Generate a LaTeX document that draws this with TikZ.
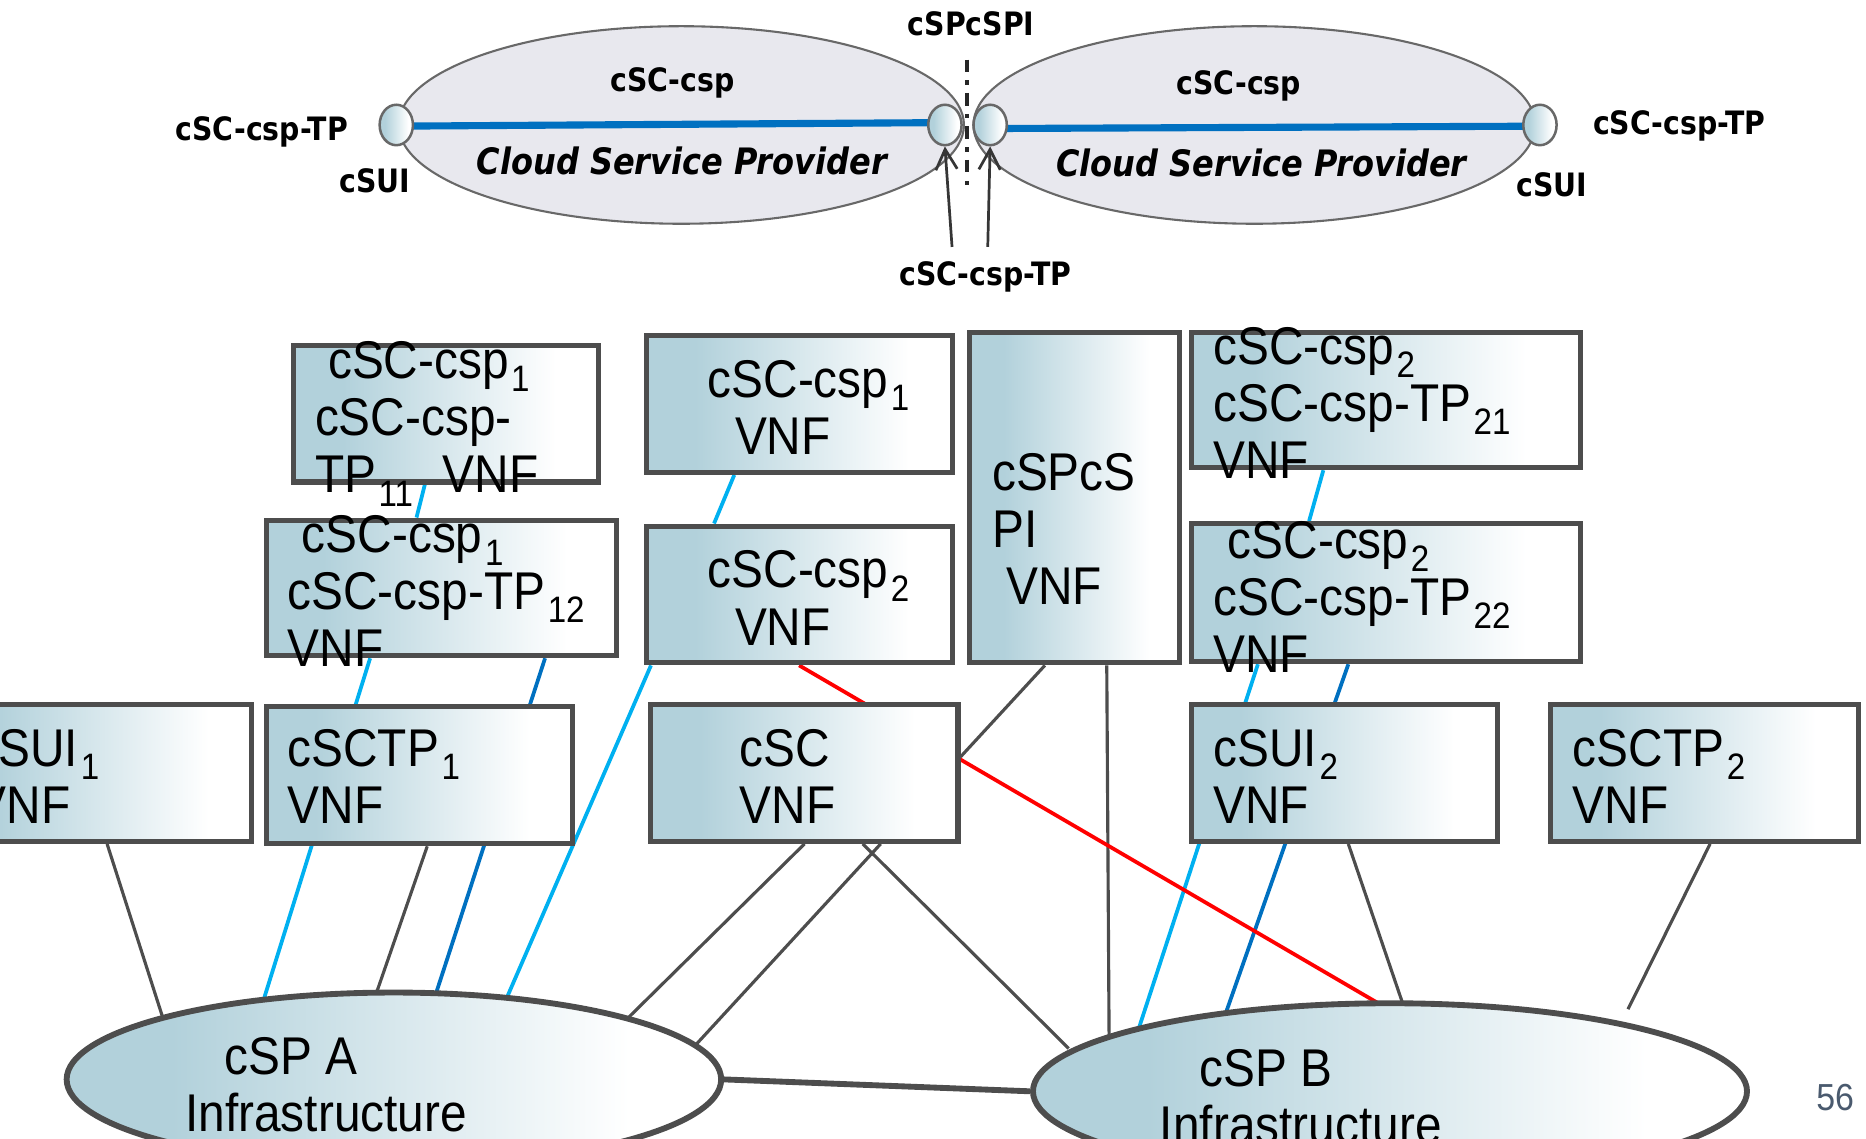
\documentclass[tikz,border=0pt]{standalone}
\usepackage{fontspec}
\setmainfont{Liberation Sans}[FakeStretch=0.9]
\newfontfamily\hdrfont{DejaVu Sans}[FakeStretch=0.88]
\usetikzlibrary{arrows.meta,positioning,shapes.geometric,backgrounds}

\definecolor{vnfblue}{RGB}{178,209,219}
\definecolor{cspgray}{RGB}{232,232,238}
\definecolor{edge}{RGB}{77,77,77}
\definecolor{lblue}{RGB}{0,176,240}
\definecolor{dblue}{RGB}{0,112,192}
\definecolor{pgnum}{RGB}{74,90,110}
\pgfdeclarehorizontalshading{vnfshade}{100bp}{color(0bp)=(vnfblue); color(33bp)=(vnfblue); color(68bp)=(white); color(100bp)=(white)}
\newcommand{\vnfsize}{\fontsize{12.7}{13.7}\selectfont\lineskiplimit=-20pt\relax}
\newcommand{\lo}[1]{\kern0.6pt\raisebox{-3.2pt}{\fontsize{8.8}{9}\selectfont #1}}

\begin{document}
\begin{tikzpicture}[x=1cm, y=-1cm,
  vnf/.style={draw=edge, line width=1.2pt, shade, shading=vnfshade, minimum width=2.57cm, minimum height=1.15cm, inner sep=0pt},
  infra/.style={ellipse, draw=edge, line width=1.4pt, shade, shading=vnfshade, inner sep=0pt},
  cloud/.style={ellipse, draw=edge!85, line width=0.5pt, fill=cspgray, minimum height=1.66cm, inner sep=0pt},
  port/.style={ellipse, draw=edge!85, line width=0.6pt, shade, shading=vnfshade, minimum width=0.28cm, minimum height=0.34cm, inner sep=0pt},
  txt/.style={font=\vnfsize, align=left, anchor=north west, inner sep=0pt},
  hdr/.style={inner sep=0pt, font=\hdrfont\fontsize{7.7}{9}\selectfont\bfseries},
  lb/.style={lblue, line width=0.9pt},
  db/.style={dblue, line width=0.9pt},
  gl/.style={edge, line width=0.75pt}
]
\useasboundingbox (0,0) rectangle (15.68,9.57);
\clip (0,0) rectangle (15.68,9.57);

% two cloud service providers at the top
\node[cloud, minimum width=4.75cm] (cspL) at (5.725,1.05) {};
\node[cloud, minimum width=4.72cm] (cspR) at (10.54,1.05) {};
\draw[dblue, line width=1.7pt] (3.33,1.06) -- (7.94,1.03);
\draw[dblue, line width=1.7pt] (8.32,1.08) -- (12.94,1.06);
\node[port] (pL1) at (3.33,1.05) {};
\node[port] (pL2) at (7.94,1.05) {};
\node[port] (pR1) at (8.32,1.05) {};
\node[port] (pR2) at (12.94,1.05) {};
\coordinate (cut1) at (8.125,0.50);
\coordinate (cut2) at (8.125,1.61);
\draw[black!85, line width=1pt, dash pattern=on 3pt off 2pt on 1pt off 2pt] (cut1) -- (cut2);
\coordinate (aL) at (8.00,2.075);
\coordinate (aR) at (8.30,2.075);
\draw[edge!70!black, line width=0.65pt, -{Straight Barb[length=1.7mm, width=1.8mm]}] (aL) -- (pL2.south);
\draw[edge!70!black, line width=0.65pt, -{Straight Barb[length=1.7mm, width=1.8mm]}] (aR) -- (pR1.south);

\node[hdr] (spi) at (8.16,0.20) {cSPcSPI};
\node[hdr] (nameL) at (5.65,0.70) {cSC-csp};
\node[hdr] (nameR) at (10.41,0.72) {cSC-csp};
\node[hdr, font=\hdrfont\fontsize{8.7}{10}\selectfont\bfseries\itshape] (roleL) at (5.73,1.35) {Cloud Service Provider};
\node[hdr, font=\hdrfont\fontsize{8.7}{10}\selectfont\bfseries\itshape] (roleR) at (10.60,1.37) {Cloud Service Provider};
\node[hdr] (tpL) at (2.20,1.11) {cSC-csp-TP};
\node[hdr] (tpR) at (14.11,1.06) {cSC-csp-TP};
\node[hdr] (suiL) at (3.15,1.52) {cSUI};
\node[hdr] (suiR) at (13.04,1.55) {cSUI};
\node[hdr] (tpM) at (8.28,2.33) {cSC-csp-TP};

% VNF boxes
\node[vnf, minimum width=2.56cm] (b11) at (3.75,3.475) {};
\node[vnf] (b1) at (6.715,3.395) {};
\node[vnf, minimum width=1.76cm, minimum height=2.78cm] (bpi) at (9.03,4.18) {};
\node[vnf, minimum width=3.27cm, minimum height=1.14cm] (b21) at (11.645,3.36) {};
\node[vnf, minimum width=2.94cm, minimum height=1.14cm] (b12) at (3.71,4.94) {};
\node[vnf] (b2) at (6.715,4.995) {};
\node[vnf, minimum width=3.27cm, minimum height=1.16cm] (b22) at (11.645,4.98) {};
\node[vnf, minimum width=2.56cm] (bsui1) at (0.83,6.495) {};
\node[vnf] (bctp1) at (3.525,6.515) {};
\node[vnf, minimum width=2.58cm] (bcsc) at (6.76,6.495) {};
\node[vnf] (bsui2) at (11.295,6.495) {};
\node[vnf, minimum width=2.59cm] (bctp2) at (14.325,6.495) {};

\node[txt] (b11t) at (2.64,2.86) {\hspace*{0.11cm}cSC-csp\lo{1}\\cSC-csp-\\TP\lo{11}\hspace*{0.25cm}VNF};
\node[txt] (b1t) at (5.94,3.02) {cSC-csp\lo{1}\\\hspace*{0.23cm}VNF};
\node[txt] (bpit) at (8.33,3.80) {cSPcS\\PI\\\hspace*{0.12cm}VNF};
\node[txt] (b21t) at (10.19,2.74) {cSC-csp\lo{2}\\cSC-csp-TP\lo{21}\\VNF};
\node[txt] (b12t) at (2.41,4.32) {\hspace*{0.12cm}cSC-csp\lo{1}\\cSC-csp-TP\lo{12}\\VNF};
\node[txt] (b2t) at (5.94,4.62) {cSC-csp\lo{2}\\\hspace*{0.23cm}VNF};
\node[txt] (b22t) at (10.19,4.37) {\hspace*{0.12cm}cSC-csp\lo{2}\\cSC-csp-TP\lo{22}\\VNF};
\node[txt] (bsui1t) at (-0.22,6.12) {cSUI\lo{1}\\VNF};
\node[txt] (bctp1t) at (2.41,6.12) {cSCTP\lo{1}\\VNF};
\node[txt] (bcsct) at (6.21,6.12) {cSC\\VNF};
\node[txt] (bsui2t) at (10.19,6.12) {cSUI\lo{2}\\VNF};
\node[txt] (bctp2t) at (13.21,6.12) {cSCTP\lo{2}\\VNF};

% infrastructures
\node[infra, minimum width=5.50cm, minimum height=1.46cm] (cspA) at (3.31,9.07) {};
\node[infra, minimum width=6.00cm, minimum height=1.48cm] (cspB) at (11.68,9.17) {};
\node[txt] (cspAt) at (1.55,8.71) {\hspace*{0.33cm}cSP A\\Infrastructure};
\node[txt] (cspBt) at (9.74,8.81) {\hspace*{0.33cm}cSP B\\Infrastructure};
\draw[edge, line width=1.4pt] (cspA.east) -- (cspB.west);
\node[font=\fontsize{9}{10}\selectfont, text=pgnum, inner sep=0pt] (page) at (15.42,9.22) {56};

\begin{scope}[on background layer]
% chains between VNFs
\draw[lb] ([shift={(-0.18,0)}]b11.south) -- ([shift={(-0.21,0)}]b12.north);
\draw[lb] ([shift={(-0.545,0)}]b1.south) -- ([shift={(-0.715,0)}]b2.north);
\draw[lb] ([shift={(-0.525,0)}]b21.south) -- ([shift={(-0.645,0)}]b22.north);
\draw[gl] ([shift={(-0.25,0)}]bpi.south) -- ([shift={(0,-0.135)}]bcsc.east);
% down to cSP A
\draw[lb] ([shift={(-0.60,0)}]b12.south) -- ([shift={(-1.11,-0.62)}]cspA.center);
\draw[db] ([shift={(0.87,0)}]b12.south) -- ([shift={(0.33,-0.65)}]cspA.center);
\draw[lb] ([shift={(-1.245,0)}]b2.south) -- ([shift={(0.92,-0.62)}]cspA.center);
\draw[gl] ([shift={(0.07,0)}]bsui1.south) -- ([shift={(-1.92,-0.45)}]cspA.center);
\draw[gl] ([shift={(0.065,0)}]bctp1.south) -- ([shift={(-0.17,-0.66)}]cspA.center);
\draw[gl] (bcsc.south) -- ([shift={(1.91,-0.46)}]cspA.center);
\draw[gl] ([shift={(0.64,0)}]bcsc.south) -- ([shift={(2.49,-0.24)}]cspA.center);
% down to cSP B
\draw[gl] ([shift={(0.49,0)}]bcsc.south) -- ([shift={(-2.70,-0.36)}]cspB.center);
\draw[gl] ([shift={(0.27,0)}]bpi.south) -- ([shift={(-2.36,-0.40)}]cspB.center);
\draw[lb] ([shift={(-1.075,0)}]b22.south) -- ([shift={(-2.13,-0.47)}]cspB.center);
\draw[db] ([shift={(-0.315,0)}]b22.south) -- ([shift={(-1.40,-0.60)}]cspB.center);
\draw[gl] ([shift={(0.035,0)}]bsui2.south) -- ([shift={(0.13,-0.67)}]cspB.center);
\coordinate (tp2end) at (13.68,8.48);
\draw[gl] ([shift={(0.045,0)}]bctp2.south) -- (tp2end);
\draw[red, line width=0.9pt] (b2.south) -- ([shift={(-0.03,-0.70)}]cspB.center);
\end{scope}
\end{tikzpicture}
\end{document}
